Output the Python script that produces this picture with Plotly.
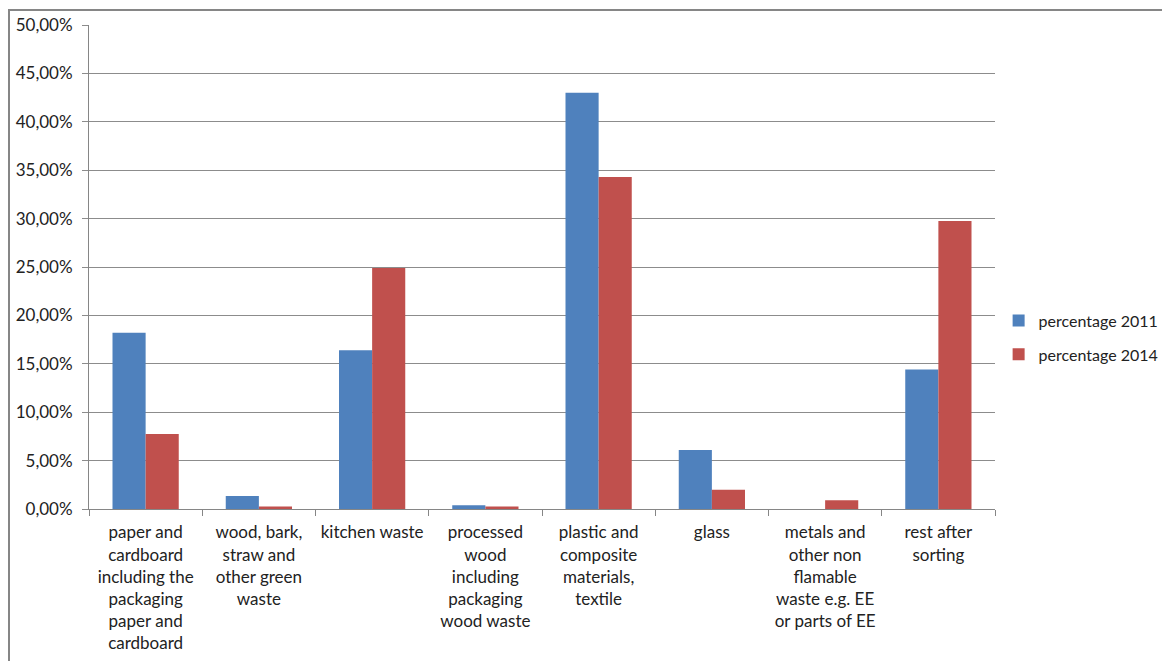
import plotly.graph_objects as go

categories = [
    "paper and<br>cardboard<br>including the<br>packaging<br>paper and<br>cardboard",
    "wood, bark,<br>straw and<br>other green<br>waste",
    "kitchen waste",
    "processed<br>wood<br>including<br>packaging<br>wood waste",
    "plastic and<br>composite<br>materials,<br>textile",
    "glass",
    "metals and<br>other non<br>flamable<br>waste e.g. EE<br>or parts of EE",
    "rest after<br>sorting",
]
pct_2011 = [18.2, 1.35, 16.4, 0.4, 43.0, 6.1, 0.0, 14.4]
pct_2014 = [7.75, 0.25, 24.9, 0.25, 34.3, 2.0, 0.9, 29.75]
series_names = ["percentage 2011", "percentage 2014"]
colors = ["#4F81BD", "#C0504D"]

FONT = "Lato"
FS = 17

fig = go.Figure()
for name, vals, col in zip(series_names, [pct_2011, pct_2014], colors):
    fig.add_trace(go.Bar(name=name, x=categories, y=vals, marker_color=col,
                         marker_line_width=0, legendgroup=name))

# page body has an 8px margin; figure sized to fit the window
W, H = 1162, 653
L, T = 81, 17
pw, ph = 906, 484
R, B = W - L - pw, H - T - ph

fig.update_layout(
    width=W, height=H,
    margin=dict(l=L, r=R, t=T, b=B, pad=0, autoexpand=False),
    paper_bgcolor="white", plot_bgcolor="white",
    barmode="group", bargap=0.415, bargroupgap=0,
    separators=",.",
    font=dict(family=FONT, size=FS, color="#222222"),
    legend=dict(x=1.004, y=0.354, xanchor="left", yanchor="middle",
                font=dict(family=FONT, size=16, color="#222222"),
                itemwidth=30, tracegroupgap=10, bgcolor="rgba(0,0,0,0)"),
    shapes=[dict(type="rect", xref="paper", yref="paper",
                 x0=(1 - L) / pw, x1=(W + 10 - L) / pw,
                 y0=-(B + 10) / ph, y1=1 + (T - 2) / ph,
                 line=dict(color="#868686", width=2), layer="below")],
)
fig.update_xaxes(
    type="category", showline=True, linecolor="#868686", linewidth=1,
    ticks="outside", tickson="boundaries", ticklen=6, tickcolor="#868686",
    showgrid=False, tickangle=0, tickfont=dict(size=FS),
    ticklabelstandoff=8,
)
fig.update_yaxes(
    range=[0, 50], dtick=5, tickformat=".2f", ticksuffix="%",
    showline=True, linecolor="#868686", linewidth=1,
    showgrid=True, gridcolor="#8C8C8C", gridwidth=1,
    ticks="outside", ticklen=6, tickcolor="#8C8C8C",
    tickfont=dict(size=FS), zeroline=False, ticklabelstandoff=6,
)

fig.write_html("out.html")
